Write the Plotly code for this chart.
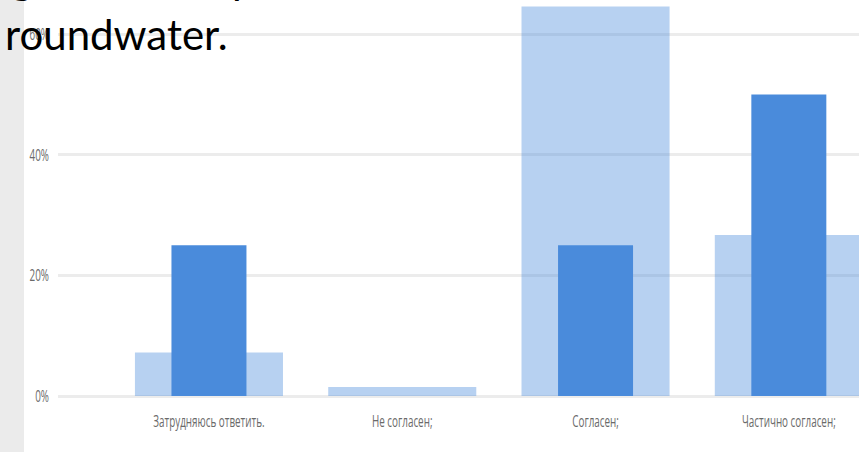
import plotly.graph_objects as go

# Survey answers (share of respondents, %)
categories = ["Затрудняюсь ответить.", "Не согласен;", "Согласен;", "Частично согласен;"]
group_a = [7.2, 1.5, 64.6, 26.7]   # wide, light bars
group_b = [25.0, 0.0, 25.0, 50.0]  # narrow, dark bars
y_ticks = [0, 20, 40, 60]
y_tick_labels = ["0%", "20%", "40%", "60%"]

BLUE = "#4a8bdb"
W, H = 859, 452
ML, MB = 58, 52
PW, PH = W - ML, H - MB

xpos = list(range(len(categories)))

fig = go.Figure()
fig.add_trace(go.Bar(
    x=xpos, y=group_a, width=0.766,
    marker=dict(color=BLUE, opacity=0.4, line=dict(width=0)),
    hoverinfo="skip", showlegend=False,
))
fig.add_trace(go.Bar(
    x=xpos, y=group_b, width=0.388,
    marker=dict(color=BLUE, line=dict(width=0)),
    hoverinfo="skip", showlegend=False,
))

tick_font = dict(family="Open Sans, sans-serif", size=17, color="#6a6a6a")

fig.update_layout(
    width=W, height=H,
    margin=dict(l=ML, r=0, t=0, b=MB, pad=0, autoexpand=False),
    paper_bgcolor="white", plot_bgcolor="white",
    barmode="overlay",
    xaxis=dict(
        range=[-0.781, 3.363], tickmode="array", tickvals=xpos, ticktext=categories,
        showgrid=False, zeroline=False, showline=False, ticks="",
        tickfont=tick_font, ticklabelstandoff=9, ticklabeloverflow="allow",
        automargin=False,
    ),
    yaxis=dict(
        range=[-0.66, 65.67], tickmode="array", tickvals=y_ticks, ticktext=y_tick_labels,
        showgrid=True, gridcolor="#ececec", gridwidth=2.5,
        zeroline=False, showline=False, ticks="",
        tickfont=tick_font, ticklabelstandoff=8, ticklabeloverflow="allow",
        automargin=False,
    ),
    shapes=[dict(
        type="rect", xref="paper", yref="paper",
        x0=(0 - ML) / PW, x1=(24 - ML) / PW, y0=-MB / PH, y1=1.0,
        fillcolor="#ebebeb", line=dict(width=0), layer="below",
    )],
)

title_font = dict(family="Lato, sans-serif", size=42, color="black")
fig.add_annotation(
    text="roundwater.", xref="paper", yref="paper",
    x=(3 - ML) / PW, y=1 - 61 / PH, xanchor="left", yanchor="bottom",
    showarrow=False, font=title_font,
)
# descenders of the slide's first text line, mostly above the page edge
fig.add_annotation(
    text="g", xref="paper", yref="paper",
    x=(9 - ML) / PW, y=1 - 5 / PH, xanchor="left", yanchor="bottom",
    showarrow=False, font=title_font,
)
fig.add_annotation(
    text="p", xref="paper", yref="paper",
    x=(230 - ML) / PW, y=1 - 5 / PH, xanchor="left", yanchor="bottom",
    showarrow=False, font=title_font,
)

# narrow the axis labels horizontally
squeeze_js = """
var gd = document.getElementById('{plot_id}');
gd.querySelectorAll('.xtick text, .ytick text').forEach(function(t){
  var w = t.getComputedTextLength();
  t.setAttribute('textLength', (w * 0.58).toFixed(1));
  t.setAttribute('lengthAdjust', 'spacingAndGlyphs');
});
"""

fig.write_html("out.html", post_script=squeeze_js)
